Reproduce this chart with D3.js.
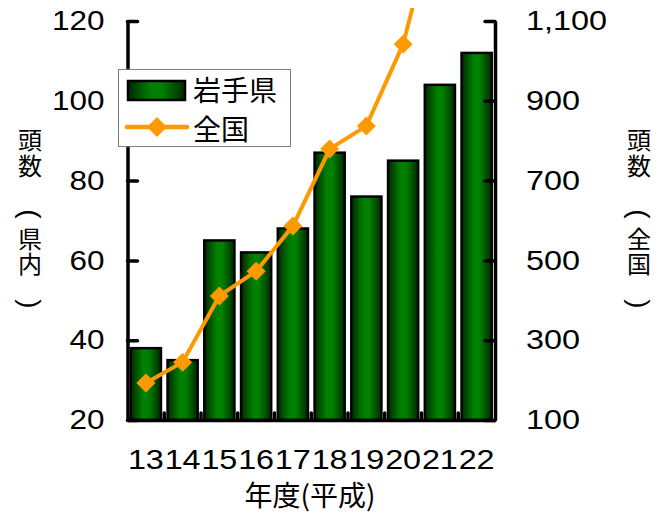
<!DOCTYPE html>
<html><head><meta charset="utf-8">
<script src="https://cdn.jsdelivr.net/npm/d3@7/dist/d3.min.js"></script>
<style>
html,body{margin:0;padding:0;background:#fff;}
svg{display:block;}
</style></head>
<body>
<script>
const categories = ["13","14","15","16","17","18","19","20","21","22"];
const iwateValues = [38,35,65,62,68,87,76,85,104,112];
const nationalValues = [193,245,411,473,586,779,837,1042,1400,1600];
const leftTicks = [20,40,60,80,100,120];
const rightTicks = [100,300,500,700,900,1100];
const seriesNames = ["岩手県","全国"];
const xTitle = "年度(平成)";
const leftTitle = ["頭","数","(","県","内",")"];
const rightTitle = ["頭","数","(","全","国",")"];

const W = 671, H = 513;
const plot = {left:127.5, right:495, top:21, bottom:420};
const numFont = "'Liberation Sans', Arial, sans-serif";
const cjkFont = "'Noto Sans CJK JP', sans-serif";

const svg = d3.select("body").append("svg").attr("width",W).attr("height",H);
const defs = svg.append("defs");
const grad = defs.append("linearGradient").attr("id","barGrad").attr("x1","0").attr("x2","1").attr("y1","0").attr("y2","0");
grad.append("stop").attr("offset","0%").attr("stop-color","#002800");
grad.append("stop").attr("offset","40%").attr("stop-color","#008000");
grad.append("stop").attr("offset","60%").attr("stop-color","#008000");
grad.append("stop").attr("offset","100%").attr("stop-color","#002800");
defs.append("clipPath").attr("id","lineClip").append("rect")
  .attr("x",0).attr("y",8).attr("width",W).attr("height",H-8);

const x = d3.scaleBand().domain(categories).range([plot.left, plot.right]).paddingInner(0.18).paddingOuter(0.09);
const yL = d3.scaleLinear().domain([20,120]).range([plot.bottom, plot.top]);
const yR = d3.scaleLinear().domain([100,1100]).range([plot.bottom, plot.top]);

// bars
svg.append("g").selectAll("rect").data(iwateValues).join("rect")
  .attr("x",(d,i)=>x(categories[i]))
  .attr("y",d=>yL(d))
  .attr("width",x.bandwidth())
  .attr("height",d=>yL(20)-yL(d))
  .attr("fill","url(#barGrad)")
  .attr("stroke","#000").attr("stroke-width",2.5);

// axes
function styleAxis(g){
  g.select(".domain").attr("stroke","#000").attr("stroke-width",3.5);
  g.selectAll(".tick line").attr("stroke","#000").attr("stroke-width",3.5).attr("stroke-linecap","round");
}
const gl = svg.append("g").attr("transform",`translate(${plot.left},0)`)
  .call(d3.axisLeft(yL).tickValues(leftTicks).tickSize(-10).tickSizeOuter(0).tickPadding(23));
styleAxis(gl);
gl.selectAll(".tick text").attr("font-family",numFont).attr("font-size",27).attr("fill","#000")
  .attr("textLength",d=>String(d).length*17.5).attr("lengthAdjust","spacingAndGlyphs");

const gr = svg.append("g").attr("transform",`translate(${plot.right},0)`)
  .call(d3.axisRight(yR).tickValues(rightTicks).tickSize(-10).tickSizeOuter(0).tickPadding(31).tickFormat(d3.format(",")));
styleAxis(gr);
gr.selectAll(".tick text").attr("font-family",numFont).attr("font-size",27).attr("fill","#000")
  .attr("textLength",d=>{const s=d3.format(",")(d);return s.replace(/,/g,"").length*18+(s.includes(",")?9:0);})
  .attr("lengthAdjust","spacingAndGlyphs");

// bottom axis
const gb = svg.append("g").attr("transform",`translate(0,${plot.bottom})`)
  .call(d3.axisBottom(x).tickSize(0).tickPadding(29));
gb.select(".domain").attr("stroke","#000").attr("stroke-width",3.5);
gb.selectAll(".tick text").attr("font-family",numFont).attr("font-size",28).attr("fill","#000")
  .attr("textLength",36).attr("lengthAdjust","spacingAndGlyphs");
const step = x.step();
svg.append("g").selectAll("line").data(categories.slice(1)).join("line")
  .attr("x1",d=>x(d)-step*x.paddingInner()/2).attr("x2",d=>x(d)-step*x.paddingInner()/2)
  .attr("y1",plot.bottom).attr("y2",plot.bottom-7)
  .attr("stroke","#000").attr("stroke-width",3.5).attr("stroke-linecap","round");

// line
const lineG = svg.append("g").attr("clip-path","url(#lineClip)");
const line = d3.line().x((d,i)=>x(categories[i])+x.bandwidth()/2).y(d=>yR(d));
lineG.append("path").datum(nationalValues).attr("d",line)
  .attr("fill","none").attr("stroke","#FF9900").attr("stroke-width",4);
const diamond = d3.symbol().type(d3.symbolSquare).size(180);
lineG.selectAll(".mk").data(nationalValues).join("path").attr("class","mk")
  .attr("d",diamond)
  .attr("transform",(d,i)=>`translate(${x(categories[i])+x.bandwidth()/2},${yR(d)}) rotate(45)`)
  .attr("fill","#FF9900");

// axis titles
svg.append("text").attr("x",310).attr("y",506).attr("text-anchor","middle")
  .attr("font-family",cjkFont).attr("font-size",28).attr("fill","#000").text(xTitle);

const titleY = [138,164,214,237,262,304];
function vTitle(chars, cx){
  const g = svg.append("g");
  const main = g.append("text").attr("text-anchor","middle").attr("dominant-baseline","central")
    .attr("font-family",cjkFont).attr("font-size",24).attr("fill","#000");
  chars.forEach((c,i)=>{
    if(c==="("||c===")"){
      g.append("text").attr("text-anchor","middle").attr("dominant-baseline","central")
       .attr("fill","#000").attr("font-family",numFont).attr("font-size",28)
       .attr("transform",`translate(${cx},${titleY[i]}) rotate(90)`).text(c);
    } else {
      main.append("tspan").attr("x",cx).attr("y",titleY[i]).text(c);
    }
  });
}
vTitle(leftTitle, 30);
vTitle(rightTitle, 639);

// legend
const lg = svg.append("g");
lg.append("rect").attr("x",118.5).attr("y",69.5).attr("width",172).attr("height",77)
  .attr("fill","#fff").attr("stroke","#808080").attr("stroke-width",1);
lg.append("rect").attr("x",128).attr("y",81).attr("width",57).attr("height",19)
  .attr("fill","url(#barGrad)").attr("stroke","#000").attr("stroke-width",2.5);
lg.append("text").attr("x",193).attr("y",101).attr("font-family",cjkFont).attr("font-size",28)
  .attr("fill","#000").text(seriesNames[0]);
lg.append("line").attr("x1",127).attr("x2",187).attr("y1",127).attr("y2",127)
  .attr("stroke","#FF9900").attr("stroke-width",4.5).attr("stroke-linecap","round");
lg.append("path").attr("d",d3.symbol().type(d3.symbolSquare).size(200))
  .attr("transform","translate(157,127) rotate(45)").attr("fill","#FF9900");
lg.append("text").attr("x",193).attr("y",140).attr("font-family",cjkFont).attr("font-size",28)
  .attr("fill","#000").text(seriesNames[1]);
</script>
</body></html>
